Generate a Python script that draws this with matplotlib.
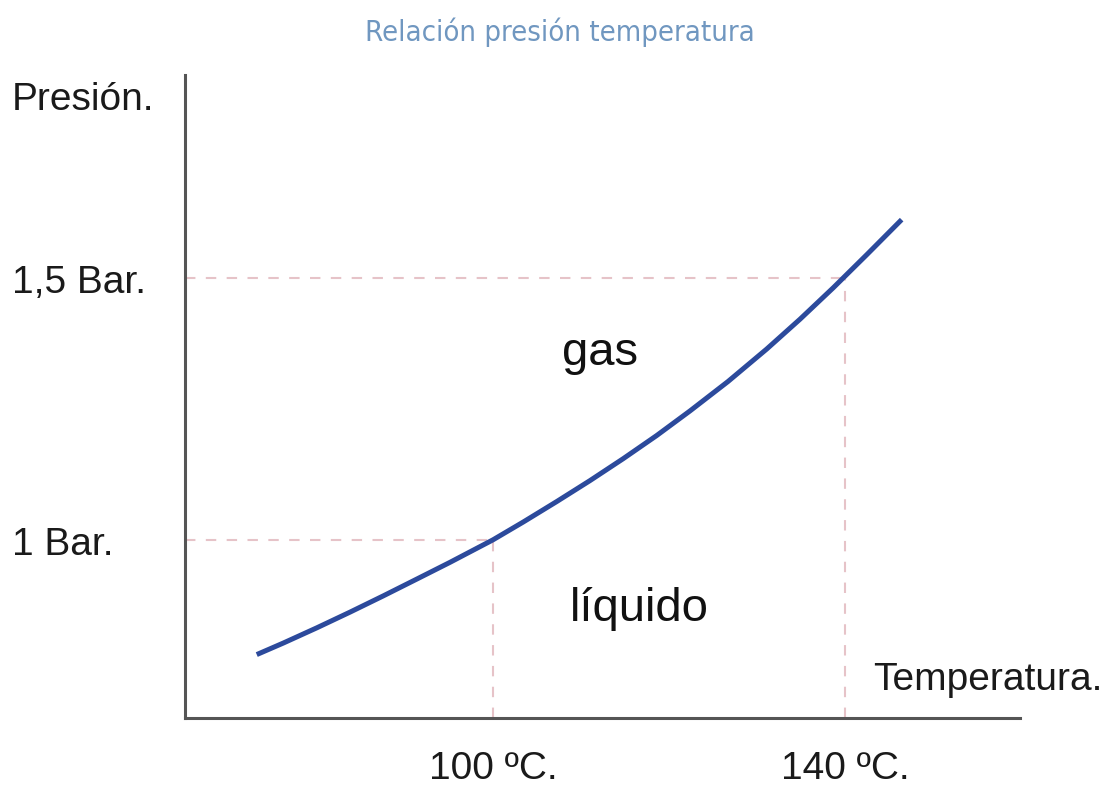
import matplotlib.pyplot as plt
import matplotlib.transforms as mtransforms

# Curve: temperature (ºC) vs pressure (bar)
temperatura = [73.15, 76.17, 79.97, 83.75, 87.53, 91.33, 95.11, 100.0, 103.44, 107.24,
               111.02, 114.81, 118.6, 122.39, 126.7, 131.1, 134.89, 138.67, 142.47, 146.44]
presion = [0.781, 0.803, 0.832, 0.862, 0.893, 0.925, 0.957, 1.0, 1.034, 1.073,
           1.113, 1.155, 1.199, 1.246, 1.302, 1.364, 1.421, 1.481, 1.544, 1.611]

# Reference marks
ref_temps = [100, 140]
ref_presiones = [1.0, 1.5]
x_labels = ['100 ºC.', '140 ºC.']
y_labels = ['1 Bar.', '1,5 Bar.']

plt.rcParams['font.family'] = ['Liberation Sans', 'DejaVu Sans']

fig = plt.figure(figsize=(11.1, 7.87), dpi=100)
ax = fig.add_axes([0.1667, 0.0877, 0.7523, 0.817])
ax.set_xlim(65.0, 159.9)
ax.set_ylim(0.660, 1.887)

# Dashed guide lines
dash_color = '#e6c3c8'
for t, p in zip(ref_temps, ref_presiones):
    ax.plot([65.0, t], [p, p], color=dash_color, lw=1.5, ls=(0, (5, 5)), zorder=1)
    ax.plot([t, t], [0.660, p], color=dash_color, lw=1.5, ls=(0, (5, 5)), zorder=1)

ax.plot(temperatura, presion, color='#2c4a9c', lw=3.6, solid_capstyle='butt',
        solid_joinstyle='round', zorder=3)

# Axes styling
for side in ['top', 'right']:
    ax.spines[side].set_visible(False)
for side in ['left', 'bottom']:
    ax.spines[side].set_color('#555555')
    ax.spines[side].set_linewidth(2.2)
ax.set_yticks([])

# Tick-like labels
ax.set_xticks(ref_temps)
ax.set_xticklabels(x_labels, fontsize=28, color='#1a1a1a')
ax.tick_params(axis='x', length=0, pad=24)

trans_y = mtransforms.blended_transform_factory(fig.transFigure, ax.transData)
for p, lab in zip(ref_presiones, y_labels):
    ax.text(0.0108, p, lab, transform=trans_y + mtransforms.ScaledTranslation(0, -5 / 100, fig.dpi_scale_trans),
            fontsize=28, color='#1a1a1a', ha='left', va='center')

fig.text(0.0108, 1 - 100 / 787, 'Presión.', fontsize=28, color='#1a1a1a', ha='left', va='center')
fig.text(1102 / 1110, 1 - 680 / 787, 'Temperatura.', fontsize=28, color='#1a1a1a', ha='right', va='center')

ax.text(112.2, 1.334, 'gas', fontsize=34, color='#111111', ha='center', va='baseline')
ax.text(116.6, 0.846, 'líquido', fontsize=34, color='#111111', ha='center', va='baseline')

fig.text(560 / 1110, 1 - 41 / 787, 'Relación presión temperatura', fontsize=21,
         color='#7097c0', ha='center', va='baseline', family='DejaVu Sans', fontstretch='condensed')

fig.savefig('out.png', dpi=100)
